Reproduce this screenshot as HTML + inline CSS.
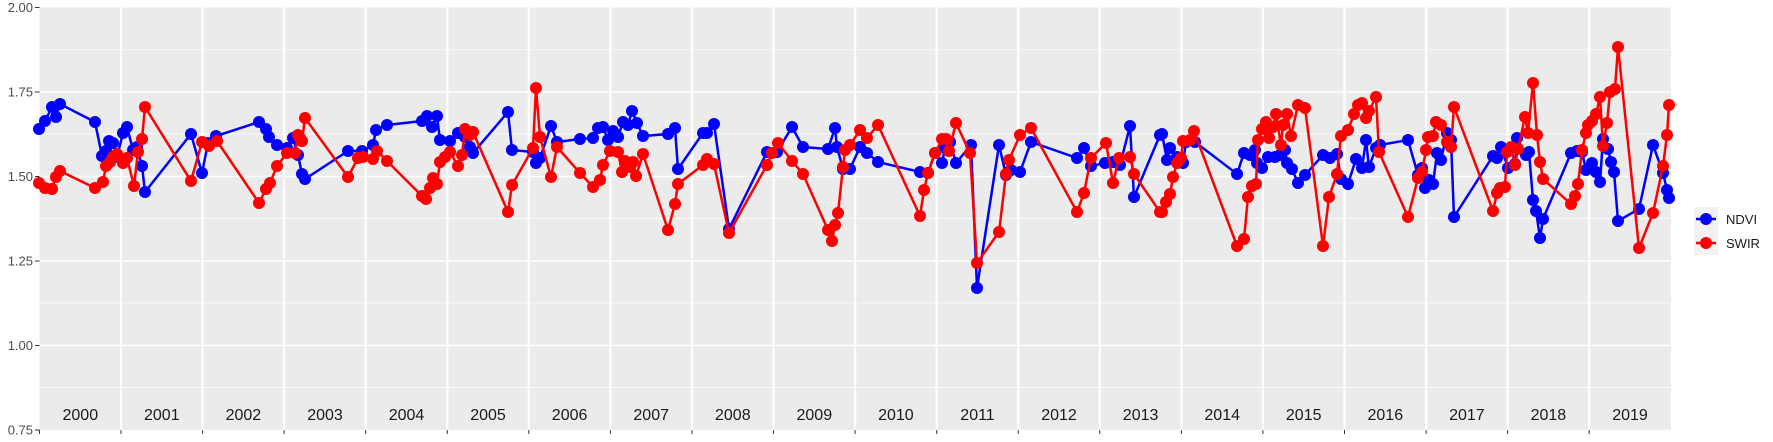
<!DOCTYPE html>
<html><head><meta charset="utf-8"><style>body{margin:0;background:#fff}svg{display:block}</style></head><body>
<svg width="1773" height="442" xmlns="http://www.w3.org/2000/svg" font-family="Liberation Sans, sans-serif">
<rect x="39.5" y="7.5" width="1631.5" height="422.5" fill="#ebebeb"/>
<g stroke="#fff" stroke-width="0.7">
<line x1="39.5" x2="1671" y1="49.8" y2="49.8"/><line x1="39.5" x2="1671" y1="134" y2="134"/><line x1="39.5" x2="1671" y1="218.5" y2="218.5"/><line x1="39.5" x2="1671" y1="303" y2="303"/><line x1="39.5" x2="1671" y1="387.5" y2="387.5"/>
</g>
<g stroke="#fff" stroke-width="1.5">
<line x1="39.5" x2="1671" y1="92" y2="92"/><line x1="39.5" x2="1671" y1="176.5" y2="176.5"/><line x1="39.5" x2="1671" y1="261" y2="261"/><line x1="39.5" x2="1671" y1="345.5" y2="345.5"/>
</g>
<g stroke="#fff" stroke-width="2.2" id="vl"></g>
<g stroke="#fff" stroke-width="2.2">
<line x1="121" x2="121" y1="7.5" y2="430"/><line x1="202.6" x2="202.6" y1="7.5" y2="430"/><line x1="284.1" x2="284.1" y1="7.5" y2="430"/><line x1="365.7" x2="365.7" y1="7.5" y2="430"/><line x1="447.3" x2="447.3" y1="7.5" y2="430"/><line x1="528.8" x2="528.8" y1="7.5" y2="430"/><line x1="610.4" x2="610.4" y1="7.5" y2="430"/><line x1="692" x2="692" y1="7.5" y2="430"/><line x1="773.5" x2="773.5" y1="7.5" y2="430"/><line x1="855.1" x2="855.1" y1="7.5" y2="430"/><line x1="936.7" x2="936.7" y1="7.5" y2="430"/><line x1="1018.2" x2="1018.2" y1="7.5" y2="430"/><line x1="1099.8" x2="1099.8" y1="7.5" y2="430"/><line x1="1181.4" x2="1181.4" y1="7.5" y2="430"/><line x1="1262.9" x2="1262.9" y1="7.5" y2="430"/><line x1="1344.5" x2="1344.5" y1="7.5" y2="430"/><line x1="1426.1" x2="1426.1" y1="7.5" y2="430"/><line x1="1507.6" x2="1507.6" y1="7.5" y2="430"/><line x1="1589.2" x2="1589.2" y1="7.5" y2="430"/>
</g>
<g stroke="#333" stroke-width="1">
<line x1="35" x2="39.5" y1="7.5" y2="7.5"/><line x1="35" x2="39.5" y1="92" y2="92"/><line x1="35" x2="39.5" y1="176.5" y2="176.5"/><line x1="35" x2="39.5" y1="261" y2="261"/><line x1="35" x2="39.5" y1="345.5" y2="345.5"/><line x1="35" x2="39.5" y1="430" y2="430"/>
<line x1="39.5" x2="39.5" y1="430" y2="434"/><line x1="121" x2="121" y1="430" y2="434"/><line x1="202.6" x2="202.6" y1="430" y2="434"/><line x1="284.1" x2="284.1" y1="430" y2="434"/><line x1="365.7" x2="365.7" y1="430" y2="434"/><line x1="447.3" x2="447.3" y1="430" y2="434"/><line x1="528.8" x2="528.8" y1="430" y2="434"/><line x1="610.4" x2="610.4" y1="430" y2="434"/><line x1="692" x2="692" y1="430" y2="434"/><line x1="773.5" x2="773.5" y1="430" y2="434"/><line x1="855.1" x2="855.1" y1="430" y2="434"/><line x1="936.7" x2="936.7" y1="430" y2="434"/><line x1="1018.2" x2="1018.2" y1="430" y2="434"/><line x1="1099.8" x2="1099.8" y1="430" y2="434"/><line x1="1181.4" x2="1181.4" y1="430" y2="434"/><line x1="1262.9" x2="1262.9" y1="430" y2="434"/><line x1="1344.5" x2="1344.5" y1="430" y2="434"/><line x1="1426.1" x2="1426.1" y1="430" y2="434"/><line x1="1507.6" x2="1507.6" y1="430" y2="434"/><line x1="1589.2" x2="1589.2" y1="430" y2="434"/>
</g>
<g fill="#4d4d4d" font-size="13" text-anchor="end">
<text x="33" y="12">2.00</text><text x="33" y="96.5">1.75</text><text x="33" y="181">1.50</text><text x="33" y="265.5">1.25</text><text x="33" y="350">1.00</text><text x="33" y="434.5">0.75</text>
</g>
<g fill="#1a1a1a" font-size="16" text-anchor="middle">
<text x="80.3" y="420">2000</text><text x="161.8" y="420">2001</text><text x="243.4" y="420">2002</text><text x="325" y="420">2003</text><text x="406.5" y="420">2004</text><text x="488" y="420">2005</text><text x="569.6" y="420">2006</text><text x="651.2" y="420">2007</text><text x="732.8" y="420">2008</text><text x="814.3" y="420">2009</text><text x="895.9" y="420">2010</text><text x="977.5" y="420">2011</text><text x="1059" y="420">2012</text><text x="1140.6" y="420">2013</text><text x="1222.2" y="420">2014</text><text x="1303.7" y="420">2015</text><text x="1385.3" y="420">2016</text><text x="1466.9" y="420">2017</text><text x="1548.4" y="420">2018</text><text x="1630" y="420">2019</text>
</g>
<g id="plots"></g>
<rect x="1694" y="207" width="24" height="48" fill="#f2f2f2"/>
<line x1="1696" x2="1716" y1="219" y2="219" stroke="#00f" stroke-width="2.5"/><circle cx="1706" cy="219" r="6" fill="#00f"/>
<line x1="1696" x2="1716" y1="243" y2="243" stroke="#f00" stroke-width="2.5"/><circle cx="1706" cy="243" r="6" fill="#f00"/>
<g font-size="13" fill="#1a1a1a"><text x="1726" y="224">NDVI</text><text x="1726" y="248">SWIR</text></g>
</svg>
<script>
const N=[[39,129],[45,121],[52,107],[56,117],[60,104],[95,122],[102,156],[106,151],[109,141],[113,143],[117,157],[123,133],[127,127],[133,150],[137,147],[142,166],[145,192],[191,134],[202,173],[208,143],[216,136],[259,122],[266,129],[269,137],[277,145],[287,148],[293,138],[298,155],[302,174],[305,179],[348,151],[362,151],[373,145],[376,130],[387,125],[422,121],[427,116],[432,127],[437,116],[440,140],[450,141],[458,133],[465,137],[470,147],[473,153],[508,112],[512,150],[533,152],[536,163],[540,158],[551,126],[557,142],[580,139],[593,138],[598,128],[603,127],[608,140],[613,131],[618,137],[623,122],[628,125],[632,111],[637,123],[643,136],[668,134],[675,128],[678,169],[703,133],[707,133],[714,124],[729,229],[767,152],[777,152],[792,127],[803,147],[828,149],[835,128],[837,147],[843,169],[850,169],[860,147],[867,153],[878,162],[920,172],[928,173],[935,153],[942,163],[945,148],[950,142],[956,163],[971,145],[977,288],[999,145],[1006,175],[1011,170],[1020,172],[1031,142],[1077,158],[1084,148],[1091,166],[1105,163],[1113,162],[1120,165],[1130,126],[1134,197],[1160,135],[1162,134],[1167,160],[1170,148],[1177,157],[1183,163],[1186,142],[1195,142],[1237,174],[1244,153],[1250,155],[1255,150],[1257,163],[1262,168],[1268,157],[1275,157],[1280,155],[1285,150],[1287,163],[1292,169],[1298,183],[1305,175],[1323,155],[1330,158],[1337,154],[1341,179],[1348,184],[1356,159],[1362,168],[1366,140],[1369,167],[1376,148],[1380,145],[1408,140],[1418,175],[1422,168],[1425,188],[1429,180],[1433,184],[1437,153],[1441,160],[1447,133],[1451,140],[1454,217],[1493,156],[1497,158],[1501,147],[1508,168],[1515,164],[1517,138],[1526,155],[1529,152],[1533,200],[1536,211],[1540,238],[1543,219],[1571,153],[1577,151],[1582,152],[1586,170],[1592,163],[1596,172],[1600,182],[1603,139],[1608,149],[1611,162],[1614,172],[1618,221],[1639,209],[1653,145],[1663,173],[1667,190],[1669,198]];
const S=[[39,183],[45,188],[52,189],[56,177],[60,171],[95,188],[103,182],[106,166],[110,162],[113,157],[117,154],[123,163],[127,158],[134,186],[138,152],[142,139],[145,107],[191,181],[202,142],[209,146],[217,141],[259,203],[266,189],[270,183],[277,166],[287,153],[295,153],[298,135],[300,138],[302,141],[305,118],[348,177],[358,158],[363,157],[373,159],[377,151],[387,161],[422,196],[426,199],[430,188],[433,178],[437,184],[440,162],[445,157],[450,152],[458,166],[462,155],[465,129],[470,135],[473,132],[508,212],[512,185],[533,148],[536,88],[540,137],[551,177],[557,147],[580,173],[593,187],[600,180],[603,165],[610,151],[618,152],[622,172],[625,161],[630,167],[633,162],[636,176],[643,154],[668,230],[675,204],[678,184],[703,165],[707,159],[714,164],[729,233],[767,165],[772,153],[778,143],[792,161],[803,174],[828,230],[832,241],[835,225],[838,213],[843,167],[845,150],[850,145],[860,130],[867,138],[878,125],[920,216],[924,190],[928,173],[935,153],[942,139],[946,139],[949,151],[956,123],[970,153],[977,263],[999,232],[1006,174],[1009,160],[1020,135],[1031,128],[1077,212],[1084,193],[1091,158],[1106,143],[1113,183],[1119,158],[1130,157],[1134,174],[1160,212],[1162,212],[1166,202],[1170,194],[1173,177],[1177,163],[1181,158],[1183,141],[1190,140],[1194,131],[1237,246],[1244,239],[1248,197],[1252,186],[1256,184],[1258,140],[1262,129],[1266,122],[1269,138],[1273,127],[1276,114],[1281,145],[1283,125],[1287,114],[1291,136],[1298,105],[1305,108],[1323,246],[1329,197],[1337,174],[1341,136],[1348,130],[1354,114],[1358,105],[1362,103],[1366,118],[1369,111],[1376,97],[1379,152],[1408,217],[1418,178],[1422,172],[1426,150],[1428,137],[1433,136],[1436,122],[1441,125],[1447,142],[1451,147],[1454,107],[1493,211],[1497,193],[1500,188],[1505,187],[1507,152],[1511,147],[1515,165],[1518,149],[1525,117],[1528,133],[1533,83],[1537,135],[1540,162],[1543,179],[1571,204],[1575,196],[1578,184],[1582,150],[1586,133],[1588,125],[1592,121],[1596,114],[1600,97],[1603,146],[1607,123],[1610,92],[1615,89],[1618,47],[1639,248],[1653,213],[1663,166],[1667,135],[1669,105]];
const ns="http://www.w3.org/2000/svg",g=document.getElementById('plots');
function draw(d,c){const p=document.createElementNS(ns,'polyline');p.setAttribute('points',d.map(a=>a.join(',')).join(' '));p.setAttribute('fill','none');p.setAttribute('stroke',c);p.setAttribute('stroke-width','2.5');g.appendChild(p);
d.forEach(a=>{const e=document.createElementNS(ns,'circle');e.setAttribute('cx',a[0]);e.setAttribute('cy',a[1]);e.setAttribute('r','6');e.setAttribute('fill',c);g.appendChild(e);});}
draw(N,'#0000ff');draw(S,'#ff0000');
</script>
</body></html>
